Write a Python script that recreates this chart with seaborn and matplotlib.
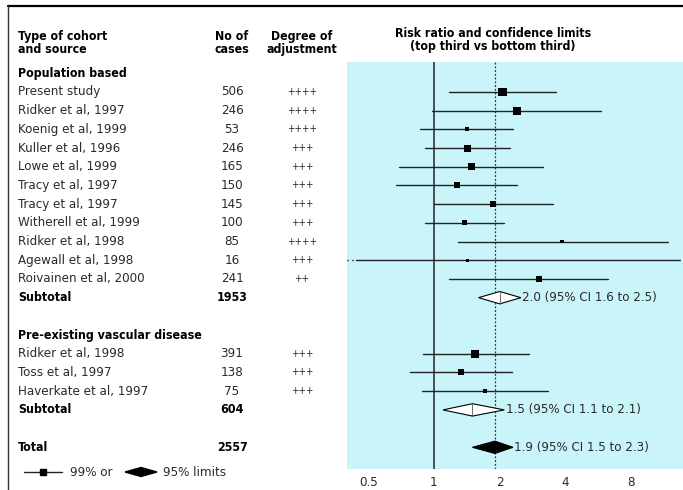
import numpy as np
import pandas as pd
import matplotlib
matplotlib.use("Agg")
import matplotlib.pyplot as plt
import matplotlib.transforms as mtrans
from matplotlib.lines import Line2D
from matplotlib.patches import Polygon
import seaborn as sns

# ---- data ---------------------------------------------------------------
pop_studies = ["Present study", "Ridker et al, 1997", "Koenig et al, 1999",
               "Kuller et al, 1996", "Lowe et al, 1999", "Tracy et al, 1997",
               "Tracy et al, 1997", "Witherell et al, 1999", "Ridker et al, 1998",
               "Agewall et al, 1998", "Roivainen et al, 2000"]
pop_cases = [506, 246, 53, 246, 165, 150, 145, 100, 85, 16, 241]
pop_adj = ["++++", "++++", "++++", "+++", "+++", "+++", "+++", "+++", "++++", "+++", "++"]
pop_rr = [2.06, 2.39, 1.42, 1.42, 1.49, 1.27, 1.86, 1.38, 3.87, 1.43, 3.02]
pop_lo = [1.17, 0.98, 0.86, 0.91, 0.69, 0.67, 1.00, 0.91, 1.29, 0.10, 1.17]
pop_hi = [3.61, 5.79, 2.31, 2.22, 3.14, 2.39, 3.50, 2.10, 11.8, 40.0, 6.24]
pop_weight = [24, 21, 5, 15, 15, 11, 11, 7, 4, 2, 13]

vasc_studies = ["Ridker et al, 1998", "Toss et al, 1997", "Haverkate et al, 1997"]
vasc_cases = [391, 138, 75]
vasc_adj = ["+++", "+++", "+++"]
vasc_rr = [1.54, 1.33, 1.71]
vasc_lo = [0.89, 0.78, 0.88]
vasc_hi = [2.72, 2.28, 3.34]
vasc_weight = [21, 11, 5]

# pooled estimates: (estimate, lower, upper)
pop_pooled = (2.0, 1.6, 2.5)
vasc_pooled = (1.5, 1.1, 2.1)
total_pooled = (1.9, 1.5, 2.3)
pop_total, vasc_total, all_total = 1953, 604, 2557

x_ticks = [0.5, 1, 2, 4, 8]

# ---- layout -------------------------------------------------------------
W, H = 683, 490
BLUE = "#c9f5fa"
INK = "#2a2a2a"

sns.set_style("white")
plt.rcParams["font.family"] = ["DejaVu Sans"]
plt.rcParams["font.stretch"] = "condensed"
plt.rcParams["text.color"] = INK
plt.rcParams["xtick.color"] = INK

n_pop = len(pop_studies)
pop_rows = list(range(n_pop))
pop_sub_row = n_pop
vasc_head_row = n_pop + 2
vasc_rows = [vasc_head_row + 1 + i for i in range(len(vasc_studies))]
vasc_sub_row = vasc_rows[-1] + 1
total_row = vasc_sub_row + 2

df = pd.DataFrame({
    "study": pop_studies + vasc_studies,
    "cases": pop_cases + vasc_cases,
    "adj": pop_adj + vasc_adj,
    "rr": pop_rr + vasc_rr,
    "lo": pop_lo + vasc_lo,
    "hi": pop_hi + vasc_hi,
    "weight": pop_weight + vasc_weight,
    "row": pop_rows + vasc_rows,
})

fig = plt.figure(figsize=(W / 100, H / 100), dpi=100)
ax = fig.add_axes([347 / W, 21 / H, (W - 347) / W, 407 / H])
ax.set_facecolor(BLUE)
ax.set_xscale("log")
ax.set_xlim(0.40, 13.8)
ax.set_ylim(20.16, -1.60)
for s in ax.spines.values():
    s.set_visible(False)
ax.set_yticks([])
ax.set_xticks(x_ticks)
ax.set_xticklabels([f"{t:g}" for t in x_ticks], fontsize=9.5)
ax.xaxis.set_minor_locator(matplotlib.ticker.NullLocator())
ax.tick_params(axis="x", direction="in", length=3, color="white", width=1.2, pad=5)

ax.axvline(1, color="#333333", lw=1.2, zorder=1)
ax.axvline(total_pooled[0], color="#333333", lw=0.9, ls=(0, (1.5, 1.5)), zorder=1)

# confidence limits, dotted where they run off the scale
xmin, xmax = ax.get_xlim()
for _, r in df.iterrows():
    lo, hi = max(r.lo, xmin * 1.1), min(r.hi, xmax / 1.04)
    ax.plot([lo, hi], [r.row, r.row], color="#222222", lw=1.0, zorder=2)
    if r.lo < xmin:
        ax.plot([xmin, lo], [r.row, r.row], color="#222222", lw=1.0, ls=(0, (1, 2.5)), zorder=2)
    if r.hi > xmax:
        ax.plot([hi, xmax], [r.row, r.row], color="#222222", lw=1.0, ls=(0, (1, 2.5)), zorder=2)

sns.scatterplot(data=df, x="rr", y="row", size="weight", sizes=(4, 40),
                marker="s", color="black", edgecolor="none", legend=False, ax=ax, zorder=3)
ax.set_xlabel("")
ax.set_ylabel("")


def diamond(est, lo, hi, row, filled):
    h = 0.33
    pts = [(lo, row), (est, row - h), (hi, row), (est, row + h)]
    ax.add_patch(Polygon(pts, closed=True, facecolor="black" if filled else "white",
                         edgecolor="black", lw=0.8, zorder=4))
    if not filled:
        ax.plot([est, est], [row - h, row + h], color="#555555", lw=0.6, zorder=5)
    ax.text(hi * 1.015, row, f"{est:.1f} (95% CI {lo:.1f} to {hi:.1f})",
            ha="left", va="center", fontsize=9.5, zorder=5)


diamond(*pop_pooled, pop_sub_row, False)
diamond(*vasc_pooled, vasc_sub_row, False)
diamond(*total_pooled, total_row, True)

# ---- table text on the left --------------------------------------------
tr = mtrans.blended_transform_factory(fig.transFigure, ax.transData)
X_LAB, X_CASE, X_ADJ = 18 / W, 232 / W, 302 / W


def put(x, row, s, ha="left", bold=False, size=9.5):
    fig.text(x, row, s, transform=tr, ha=ha, va="center",
             fontsize=8.9 if bold else size, color="black" if bold else INK,
             fontweight="bold" if bold else "normal", clip_on=False)


put(X_LAB, -1, "Population based", bold=True)
for _, r in df.iterrows():
    put(X_LAB, r.row, r.study)
    put(X_CASE, r.row, str(r.cases), ha="center")
    put(X_ADJ, r.row, r.adj, ha="center", size=7)
put(X_LAB, pop_sub_row, "Subtotal", bold=True)
put(X_CASE, pop_sub_row, str(pop_total), ha="center", bold=True)
put(X_LAB, vasc_head_row, "Pre-existing vascular disease", bold=True)
put(X_LAB, vasc_sub_row, "Subtotal", bold=True)
put(X_CASE, vasc_sub_row, str(vasc_total), ha="center", bold=True)
put(X_LAB, total_row, "Total", bold=True)
put(X_CASE, total_row, str(all_total), ha="center", bold=True)

# column headers
hdr = dict(va="center", fontsize=8.8, fontweight="bold", linespacing=1.0, color="black")
fig.text(X_LAB, 1 - 43 / H, "Type of cohort\nand source", ha="left", **hdr)
fig.text(X_CASE, 1 - 43 / H, "No of\ncases", ha="center", **hdr)
fig.text(X_ADJ, 1 - 43 / H, "Degree of\nadjustment", ha="center", **hdr)
fig.text(493 / W, 1 - 40 / H, "Risk ratio and confidence limits\n(top third vs bottom third)",
         ha="center", **hdr)

# key at the bottom
yk = 1 - 472 / H
fig.add_artist(Line2D([24 / W, 62 / W], [yk, yk], color="#222222", lw=1.0,
                      transform=fig.transFigure))
fig.add_artist(Line2D([43 / W], [yk], marker="s", markersize=5, color="black",
                      transform=fig.transFigure))
fig.text(70 / W, yk, "99% or", ha="left", va="center", fontsize=9.5)
dh = 4.5 / H
fig.add_artist(Polygon([(125 / W, yk), (141 / W, yk + dh), (157 / W, yk), (141 / W, yk - dh)],
                       closed=True, facecolor="black", edgecolor="black",
                       transform=fig.transFigure))
fig.text(163 / W, yk, "95% limits", ha="left", va="center", fontsize=9.5)

# frame lines
fig.add_artist(Line2D([8 / W, 1], [1 - 6 / H, 1 - 6 / H], color="black", lw=1.6,
                      transform=fig.transFigure))
fig.add_artist(Line2D([8 / W, 8 / W], [0, 1 - 6 / H], color="#333333", lw=1.0,
                      transform=fig.transFigure))

fig.savefig("out.png", dpi=100, facecolor="white")
